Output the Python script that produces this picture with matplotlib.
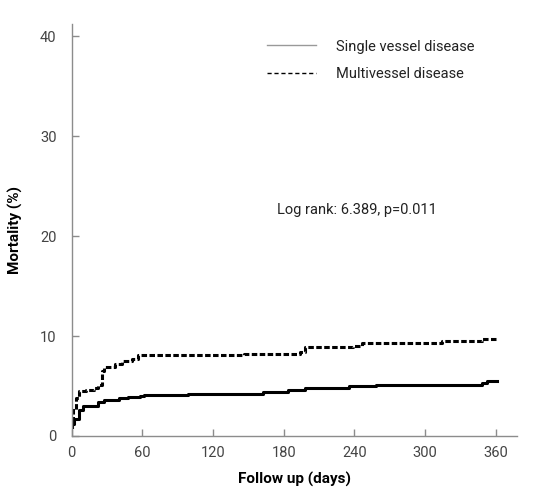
import numpy as np
import matplotlib
matplotlib.use("Agg")
import matplotlib.pyplot as plt
from matplotlib.lines import Line2D

plt.rcParams['font.family'] = ['Roboto', 'DejaVu Sans']

# step curves (day, mortality %)
single_days = [0, 0.6, 2, 6, 10, 22, 27, 40, 48, 58, 61, 99, 162, 184, 198, 235, 258, 348, 352.5, 361]
single_mort = [0.9, 1.2, 1.7, 2.6, 3.0, 3.4, 3.6, 3.8, 3.9, 4.0, 4.1, 4.2, 4.35, 4.55, 4.8, 4.97, 5.14, 5.3, 5.5, 5.5]

multi_days = [0, 1.4, 3.4, 6, 12, 19, 22, 26, 27, 37, 43, 51, 56, 146, 194, 198, 239, 246, 314, 348, 361]
multi_mort = [1.5, 2.6, 3.8, 4.45, 4.6, 4.8, 5.1, 6.5, 6.9, 7.2, 7.5, 7.7, 8.05, 8.2, 8.4, 8.85, 9.0, 9.3, 9.5, 9.75, 9.75]

x_ticks = [0, 60, 120, 180, 240, 300, 360]
y_ticks = [0, 10, 20, 30, 40]
legend_labels = ["Single vessel disease", "Multivessel disease"]
stat_text = "Log rank: 6.389, p=0.011"

fig = plt.figure(figsize=(5.5, 4.98), dpi=100)
ax = fig.add_axes([0.1304, 0.1245, 0.8096, 0.8273])

ax.step(single_days, single_mort, where="post", color="black", lw=2.2)
ax.step(multi_days, multi_mort, where="post", color="black", lw=2.2,
        linestyle=(0, (1.8, 0.8)))

ax.set_xlim(0, 378)
ax.set_ylim(0, 41.2)
ax.set_xticks(x_ticks)
ax.set_yticks(y_ticks)

for s in ["top", "right"]:
    ax.spines[s].set_visible(False)
for s in ["left", "bottom"]:
    ax.spines[s].set_color("#8c8c8c")
    ax.spines[s].set_linewidth(1.0)
ax.tick_params(direction="in", length=5, width=1.0, color="#8c8c8c",
               labelsize=10.5, labelcolor="#444444")
ax.tick_params(axis="y", pad=11)
ax.tick_params(axis="x", pad=7)

ax.set_ylabel("Mortality (%)", fontsize=11, fontweight="bold", labelpad=12)
ax.set_xlabel("Follow up (days)", fontsize=11, fontweight="bold", labelpad=9)

ax.text(174, 22.6, stat_text, fontsize=10.5, va="center", ha="left", color="#222222")

handles = [Line2D([], [], color="#999999", lw=1.0),
           Line2D([], [], color="black", lw=1.0, linestyle=(0, (3, 2)))]
ax.legend(handles, legend_labels, loc="upper left", bbox_to_anchor=(0.41, 0.994),
          frameon=False, fontsize=10.5, handlelength=3.3, handletextpad=1.4,
          labelspacing=0.95, labelcolor="#222222")

fig.savefig("out.png", dpi=100)
